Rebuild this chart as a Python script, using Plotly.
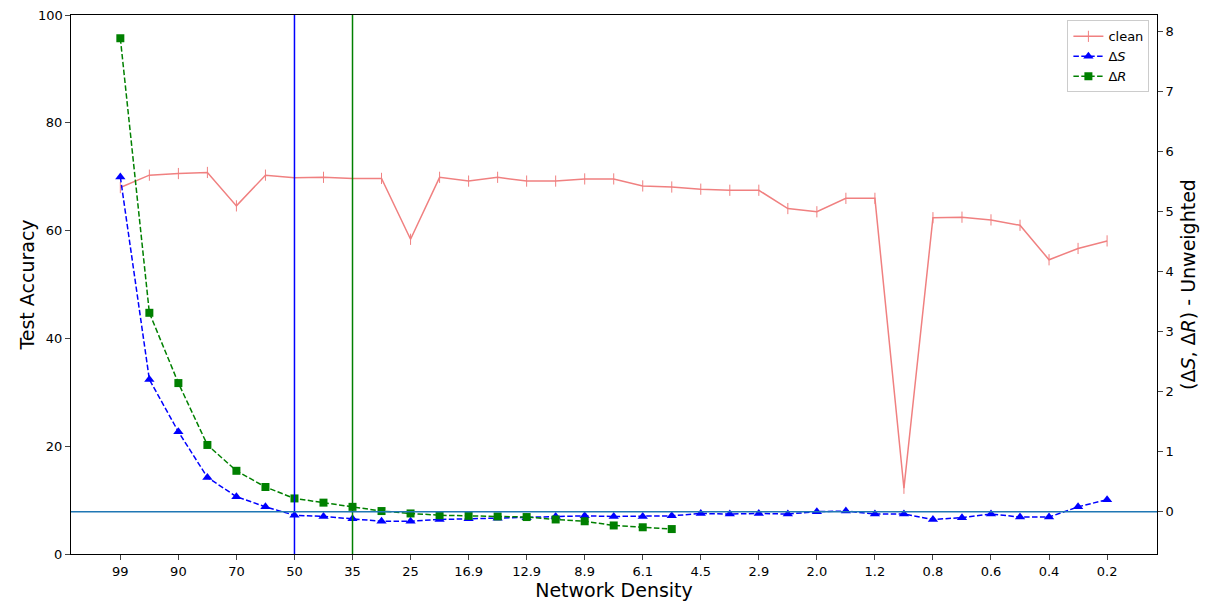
import plotly.graph_objects as go

# x positions are the density steps (35 of them), every other one labelled
density_labels = ["99", "90", "70", "50", "35", "25", "16.9", "12.9", "8.9",
                  "6.1", "4.5", "2.9", "2.0", "1.2", "0.8", "0.6", "0.4", "0.2"]
steps = list(range(35))
acc_ticks = [0, 20, 40, 60, 80, 100]

clean = [68.0, 70.3, 70.6, 70.8, 64.6, 70.3, 69.8, 69.9, 69.7, 69.7,
         58.4, 69.9, 69.2, 69.9, 69.2, 69.2, 69.6, 69.6, 68.3, 68.1,
         67.7, 67.5, 67.5, 64.1, 63.5, 66.0, 66.0, 12.2, 62.4, 62.5,
         62.0, 61.0, 54.6, 56.7, 58.1]

delta_s = [5.57, 2.2, 1.33, 0.57, 0.25, 0.08, -0.06, -0.08, -0.12, -0.16,
           -0.16, -0.13, -0.12, -0.11, -0.1, -0.08, -0.07, -0.08, -0.08, -0.07,
           -0.03, -0.04, -0.03, -0.04, 0.0, 0.01, -0.04, -0.04, -0.13, -0.1,
           -0.04, -0.09, -0.09, 0.08, 0.2]

delta_r = [7.88, 3.31, 2.14, 1.11, 0.68, 0.41, 0.22, 0.15, 0.08, 0.01,
           -0.03, -0.06, -0.07, -0.08, -0.09, -0.13, -0.16, -0.23, -0.26, -0.29]

# vertical markers (step index) and baseline on right axis
vline_blue = 6
vline_green = 8
baseline = 0

font = "DejaVu Sans, Arial, sans-serif"

fig = go.Figure()
fig.add_trace(go.Scatter(
    x=steps, y=clean, name="clean", mode="lines+markers",
    line=dict(color="lightcoral", width=1.5),
    marker=dict(symbol="line-ns", size=8, line=dict(color="lightcoral", width=1)),
))
fig.add_trace(go.Scatter(
    x=steps[:len(delta_s)], y=delta_s, name="Δ<i>S</i>", yaxis="y2",
    mode="lines+markers",
    line=dict(color="blue", width=1.5, dash="5.5px,2.4px"),
    marker=dict(symbol="triangle-up", size=9, color="blue"),
))
fig.add_trace(go.Scatter(
    x=steps[:len(delta_r)], y=delta_r, name="Δ<i>R</i>", yaxis="y2",
    mode="lines+markers",
    line=dict(color="green", width=1.5, dash="5.5px,2.4px"),
    marker=dict(symbol="square", size=8, color="green"),
))

fig.add_shape(type="line", xref="x", yref="paper", x0=vline_blue, x1=vline_blue,
              y0=0, y1=1, line=dict(color="blue", width=1.5))
fig.add_shape(type="line", xref="x", yref="paper", x0=vline_green, x1=vline_green,
              y0=0, y1=1, line=dict(color="green", width=1.5))
fig.add_shape(type="line", xref="paper", yref="y2", x0=0, x1=1,
              y0=baseline, y1=baseline, line=dict(color="#1f77b4", width=1.5))

# plotly drops the top tick label this close to the page edge, so put it back
fig.add_annotation(text=str(acc_ticks[-1]), xref="paper", yref="y", x=0, y=acc_ticks[-1],
                   xanchor="right", yanchor="middle", xshift=-6, showarrow=False,
                   font=dict(size=13, color="black"))

# page body has an 8px margin, so the figure is a bit smaller than the window
fig.update_layout(
    width=1204, height=604,
    margin=dict(l=63, r=55, t=7, b=58, autoexpand=False),
    plot_bgcolor="white", paper_bgcolor="white",
    font=dict(family=font, size=13, color="black"),
    showlegend=True,
    legend=dict(x=0.993, y=0.99, xanchor="right", yanchor="top",
                bgcolor="rgba(255,255,255,0.8)", bordercolor="#cccccc", borderwidth=1,
                font=dict(size=13)),
    xaxis=dict(
        range=[-1.7, 35.72], tickvals=steps[::2], ticktext=density_labels,
        showgrid=False, zeroline=False, showline=True, linecolor="black",
        linewidth=1, mirror=True, ticks="outside", ticklen=5,
        title=dict(text="Network Density", font=dict(size=19), standoff=6),
    ),
    yaxis=dict(
        range=[0, 100.02], tickvals=acc_ticks,
        ticktext=[str(t) for t in acc_ticks[:-1]] + [""],
        showgrid=False, zeroline=False, showline=True, linecolor="black",
        linewidth=1, ticks="outside", ticklen=5, automargin=False,
        title=dict(text="Test Accuracy", font=dict(size=19), standoff=6),
    ),
    yaxis2=dict(
        overlaying="y", side="right", range=[-0.705, 8.267],
        tickvals=list(range(0, 9)), automargin=False,
        showgrid=False, zeroline=False, showline=True, linecolor="black",
        linewidth=1, ticks="outside", ticklen=5,
        title=dict(text="(Δ<i>S</i>, Δ<i>R</i>) - Unweighted", font=dict(size=19), standoff=8),
    ),
)

fig.write_html("out.html")
